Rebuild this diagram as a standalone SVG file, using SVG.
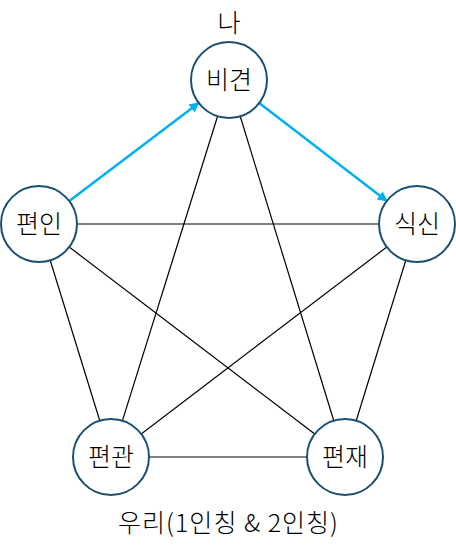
<svg xmlns="http://www.w3.org/2000/svg" width="456" height="554" viewBox="0 0 456 554">
<style>
.node{fill:#fff;stroke:#1b5072;stroke-width:2}
.lbl{font-family:"Malgun Gothic","Noto Sans CJK KR",sans-serif;font-size:25px;font-weight:300;fill:#000;text-anchor:middle}
.ln{stroke:#000;stroke-width:1.2;fill:none}
.ar{stroke:#00b0f0;stroke-width:2.5;fill:none;marker-end:url(#ah)}
</style>
<defs>
<marker id="ah" viewBox="0 0 10 10" refX="9" refY="5" markerWidth="4" markerHeight="4" orient="auto" markerUnits="strokeWidth">
<path d="M0,0 L10,5 L0,10 z" fill="#00b0f0"/>
</marker>
</defs>
<rect width="456" height="554" fill="#fff"/>
<g id="connectors">
<line class="ln" x1="217.6" y1="116.3" x2="122.4" y2="420.7"/>
<line class="ln" x1="240.2" y1="116.3" x2="333.8" y2="420.7"/>
<line class="ln" x1="50.2" y1="260.3" x2="99.8" y2="420.7"/>
<line class="ln" x1="69.2" y1="247" x2="314.8" y2="434"/>
<line class="ln" x1="386.8" y1="247" x2="141.2" y2="434"/>
<line class="ln" x1="405.8" y1="260.3" x2="356.2" y2="420.7"/>
<line class="ln" x1="77" y1="224" x2="379" y2="224"/>
<line class="ln" x1="149" y1="457" x2="307" y2="457"/>
<line class="ar" x1="69.3" y1="201" x2="198.7" y2="103"/>
<line class="ar" x1="259.2" y1="103.1" x2="386.8" y2="200.9"/>
</g>
<g id="n-bigyeon"><circle class="node" cx="229" cy="80" r="38"/><text class="lbl" x="229" y="89">비견</text></g>
<g id="n-pyeonin"><circle class="node" cx="39" cy="224" r="38"/><text class="lbl" x="39" y="233">편인</text></g>
<g id="n-siksin"><circle class="node" cx="417" cy="224" r="38"/><text class="lbl" x="417" y="233">식신</text></g>
<g id="n-pyeongwan"><circle class="node" cx="111" cy="457" r="38"/><text class="lbl" x="111" y="466">편관</text></g>
<g id="n-pyeonjae"><circle class="node" cx="345" cy="457" r="38"/><text class="lbl" x="345" y="466">편재</text></g>
<g id="labels">
<text class="lbl" x="229" y="32">나</text>
<text class="lbl" x="228" y="532" textLength="220" lengthAdjust="spacing">우리(1인칭 &amp; 2인칭)</text>
</g>
</svg>
